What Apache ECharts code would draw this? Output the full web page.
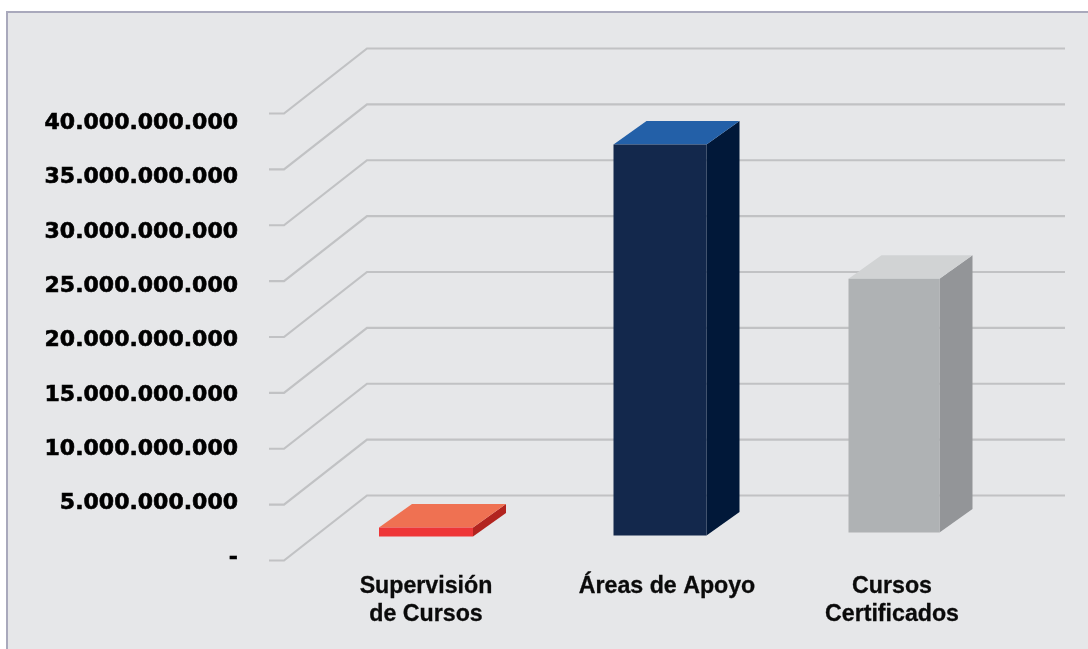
<!DOCTYPE html>
<html><head><meta charset="utf-8">
<style>html,body{margin:0;padding:0;background:#fff}#c{width:1088px;height:649px}</style>
<script src="https://cdn.jsdelivr.net/npm/echarts@6/dist/echarts.min.js"></script>
</head><body><div id="c"></div>
<script>
const categories = ['Supervisión\nde Cursos', 'Áreas de Apoyo', 'Cursos\nCertificados'];
const values = [800000000, 35000000000, 22700000000];
const tickValues = [0, 5e9, 10e9, 15e9, 20e9, 25e9, 30e9, 35e9, 40e9];
const tickLabels = ['-', '5.000.000.000', '10.000.000.000', '15.000.000.000', '20.000.000.000', '25.000.000.000', '30.000.000.000', '35.000.000.000', '40.000.000.000'];

const faces = [
  {front:'#EE3638', side:'#B2241F', top:'#EF7152'},
  {front:'#13284C', side:'#011839', top:'#2360A8'},
  {front:'#AFB2B4', side:'#939598', top:'#D1D3D4'}
];
const barWidth = [94, 93, 91];
const floorLift = [24, 25, 28];
const DX = 33, DY = -23.5;

const catFont = {fontFamily:'Liberation Sans',fontWeight:'bold',fontSize:23.2,lineHeight:28,color:'#0a0a0a',textBorderColor:'#0a0a0a',textBorderWidth:0.3};

const chart = echarts.init(document.getElementById('c'), null, {renderer:'canvas'});
chart.setOption({
  animation:false,
  backgroundColor:'#fff',
  graphic:[{type:'rect', z:-10, silent:true,
    shape:{x:7,y:12,width:1100,height:660},
    style:{fill:'#E6E7E9', stroke:'#A9A9BC', lineWidth:2}}],
  grid:[
    {left:242, width:10, top:123.2, height:434.8},
    {left:309, width:702, top:113.5, height:447}
  ],
  xAxis:[
    {gridIndex:0, type:'value', show:false},
    {gridIndex:1, type:'category', data:categories,
      axisLine:{show:false}, axisTick:{show:false},
      axisLabel:Object.assign({}, catFont, {
        interval:0, margin:12,
        formatter:function(v,i){
          return v.split('\n').map(function(s){return '{c'+i+'|'+s+'}';}).join('\n');
        },
        rich:{
          c0:catFont,
          c1:Object.assign({}, catFont, {padding:[0,0,0,14]}),
          c2:Object.assign({}, catFont, {padding:[0,4,0,0]})
        }
      })}
  ],
  yAxis:[
    {gridIndex:0, type:'value', min:0, max:40e9, interval:5e9,
      axisLine:{show:false}, axisTick:{show:false}, splitLine:{show:false},
      axisLabel:{margin:4, color:'#000', fontFamily:'DejaVu Sans', fontWeight:'bold', fontSize:22,
        textBorderColor:'#000', textBorderWidth:0.6,
        formatter:function(v){ return tickLabels[tickValues.indexOf(v)]; }}},
    {gridIndex:1, type:'value', min:0, max:40e9, interval:5e9, show:false}
  ],
  series:[
    {type:'custom', xAxisIndex:1, yAxisIndex:1, z:1, silent:true,
      data:tickValues.map(function(v){return [0,v];}),
      renderItem:function(p,api){
        const y = api.coord([0, api.value(1)])[1];
        return {type:'polyline', shape:{points:[[269,y],[284,y],[367,y-65],[1065,y-65]]},
          style:{fill:null, stroke:'#C1C2C4', lineWidth:2.2}};
      }},
    {type:'custom', xAxisIndex:1, yAxisIndex:1, z:2, silent:true,
      data:values.map(function(v,i){return [i,v];}),
      renderItem:function(p,api){
        const i = api.value(0);
        const cx = api.coord([i,0])[0];
        const y0 = api.coord([i,0])[1];
        const h = y0 - api.coord([i,api.value(1)])[1];
        const w = barWidth[i], f = faces[i];
        const l = cx - w/2, r = cx + w/2, b = y0 - floorLift[i], t = b - h;
        return {type:'group', children:[
          {type:'polygon', shape:{points:[[r,t],[r+DX,t+DY],[r+DX,b+DY],[r,b]]}, style:{fill:f.side}},
          {type:'polygon', shape:{points:[[l,t],[l+DX,t+DY],[r+DX,t+DY],[r,t]]}, style:{fill:f.top}},
          {type:'rect', shape:{x:l,y:t,width:w,height:h}, style:{fill:f.front}}
        ]};
      }}
  ]
});
</script></body></html>
